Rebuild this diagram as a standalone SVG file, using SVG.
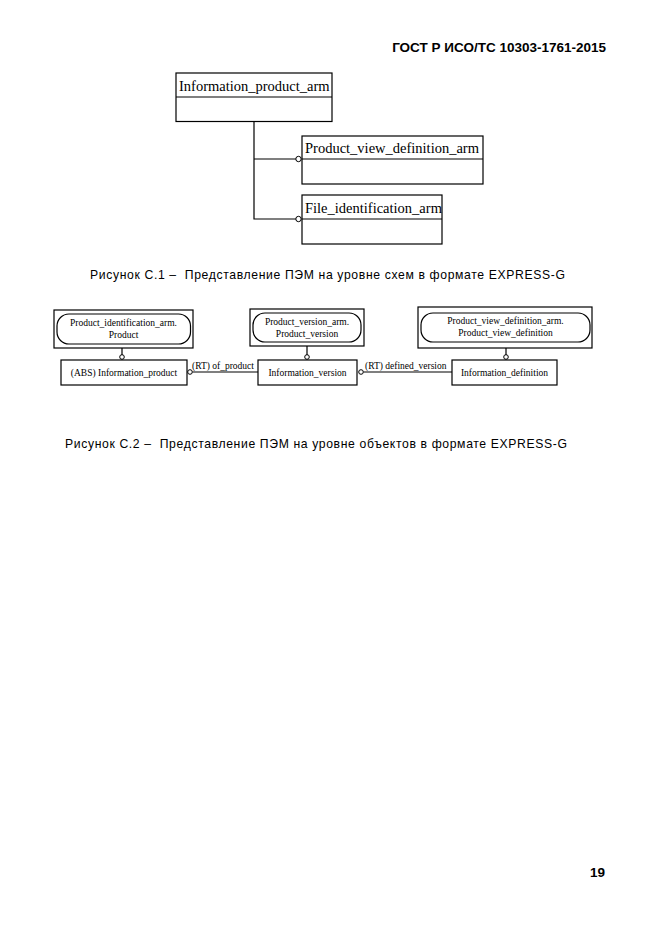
<svg xmlns="http://www.w3.org/2000/svg" width="661" height="935" viewBox="0 0 661 935">
<style>
.bx{fill:#fff;stroke:#000;stroke-width:1.2}
.ln{fill:none;stroke:#000;stroke-width:1.2}
.ci{fill:#fff;stroke:#000;stroke-width:1}
.t1{font-family:"Liberation Serif",serif;font-size:14.5px;fill:#000}
.t2{font-family:"Liberation Serif",serif;font-size:9.5px;fill:#000}
.cap{font-family:"Liberation Sans",Arial,sans-serif;font-size:12.2px;fill:#000}
.hd{font-family:"Liberation Sans",Arial,sans-serif;font-size:13.5px;font-weight:bold;fill:#000}
</style>
<rect width="661" height="935" fill="#fff"/>
<text id="header" class="hd" x="606" y="52" text-anchor="end">ГОСТ Р ИСО/ТС 10303-1761-2015</text>

<g id="connectors">
<path class="ln" d="M254,122 V219 H296 M254,159 H296"/>
<circle class="ci" cx="298.5" cy="159" r="2.7"/>
<circle class="ci" cx="298.5" cy="219" r="2.7"/>
<path class="ln" d="M122,348 V355 M307,346 V355 M506,348 V355"/>
<circle class="ci" cx="122" cy="357" r="2.3"/>
<circle class="ci" cx="307" cy="357" r="2.3"/>
<circle class="ci" cx="506" cy="357" r="2.3"/>
<path class="ln" d="M192.5,372 H258 M363.5,372 H452"/>
<circle class="ci" cx="190" cy="372" r="2.3"/>
<circle class="ci" cx="361" cy="372" r="2.3"/>
<text class="t2" x="192" y="369">(RT) of_product</text>
<text class="t2" x="365" y="369">(RT) defined_version</text>
</g>

<g id="Information_product_arm">
<rect class="bx" x="176" y="73" width="156" height="48.5"/>
<line class="ln" x1="176" y1="97" x2="332" y2="97"/>
<text class="t1" x="179" y="91">Information_product_arm</text>
</g>
<g id="Product_view_definition_arm">
<rect class="bx" x="302" y="136" width="181" height="48"/>
<line class="ln" x1="302" y1="159" x2="483" y2="159"/>
<text class="t1" x="305" y="153">Product_view_definition_arm</text>
</g>
<g id="File_identification_arm">
<rect class="bx" x="302" y="195" width="140" height="49"/>
<line class="ln" x1="302" y1="219" x2="442" y2="219"/>
<text class="t1" x="305" y="213">File_identification_arm</text>
</g>

<text id="caption1" class="cap" x="90" y="279" textLength="475" lengthAdjust="spacing" xml:space="preserve">Рисунок С.1 –  Представление ПЭМ на уровне схем в формате EXPRESS-G</text>

<g id="Product_identification_arm.Product">
<rect class="bx" x="54" y="310" width="139" height="38"/>
<rect class="ln" x="57" y="314" width="133.5" height="30" rx="12"/>
<text class="t2" x="123.5" y="326" text-anchor="middle">Product_identification_arm.</text>
<text class="t2" x="123.5" y="338" text-anchor="middle">Product</text>
</g>
<g id="Product_version_arm.Product_version">
<rect class="bx" x="250" y="309" width="114" height="37"/>
<rect class="ln" x="253" y="313" width="108" height="29" rx="12"/>
<text class="t2" x="307" y="325" text-anchor="middle">Product_version_arm.</text>
<text class="t2" x="307" y="337" text-anchor="middle">Product_version</text>
</g>
<g id="Product_view_definition_arm.Product_view_definition">
<rect class="bx" x="418" y="307" width="174" height="41"/>
<rect class="ln" x="421" y="313" width="169" height="29" rx="12"/>
<text class="t2" x="505.5" y="324" text-anchor="middle">Product_view_definition_arm.</text>
<text class="t2" x="505.5" y="336" text-anchor="middle">Product_view_definition</text>
</g>
<g id="Information_product">
<rect class="bx" x="61" y="360" width="126" height="25"/>
<text class="t2" x="124" y="376" text-anchor="middle">(ABS) Information_product</text>
</g>
<g id="Information_version">
<rect class="bx" x="258" y="360" width="99" height="25"/>
<text class="t2" x="307.5" y="376" text-anchor="middle">Information_version</text>
</g>
<g id="Information_definition">
<rect class="bx" x="452" y="360" width="105" height="25"/>
<text class="t2" x="504.5" y="376" text-anchor="middle">Information_definition</text>
</g>

<text id="caption2" class="cap" x="65" y="448" textLength="502" lengthAdjust="spacing" xml:space="preserve">Рисунок С.2 –  Представление ПЭМ на уровне объектов в формате EXPRESS-G</text>
<text id="pagenum" class="hd" x="605" y="877" text-anchor="end">19</text>
</svg>
